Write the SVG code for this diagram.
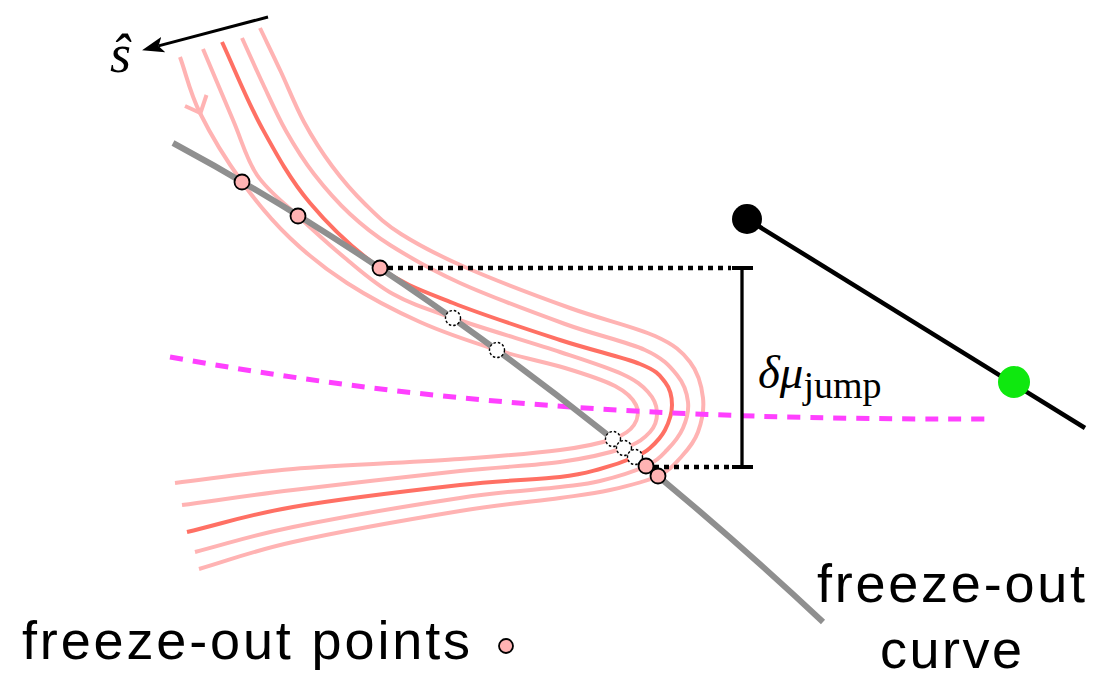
<svg xmlns="http://www.w3.org/2000/svg" width="1093" height="685" viewBox="0 0 1093 685">
<defs>
<marker id="arr" markerUnits="userSpaceOnUse" viewBox="0 0 22 16" refX="5" refY="8" markerWidth="22" markerHeight="16" orient="auto"><path d="M0,0 L22,8 L0,16 L5,8 z" fill="#000"/></marker>
</defs>
<style>
.pale{fill:none;stroke:#ffb3b3;stroke-width:4}
.dark{fill:none;stroke:#ff7064;stroke-width:4}
.fo{fill:#ffb3b3;stroke:#000;stroke-width:1.8}
.ghost{fill:#fff;stroke:#000;stroke-width:1.4;stroke-dasharray:2.5 2}
.dot{stroke:#000;stroke-width:4.5;stroke-dasharray:5 5;fill:none}
.lbl{font-family:"Liberation Sans",Arial,sans-serif;font-size:54px;fill:#000}
.math{font-family:"Liberation Serif","Times New Roman",serif;fill:#000}
</style>
<rect width="1093" height="685" fill="#fff"/>

<g id="flow-lines">
<path class="pale" d="M180,57 C186.7,75.7 189.7,92.2 200,113 S227,161.2 242,182 S272.5,221.2 290,238 S325.3,269 347,283 S395,310.8 420,322 S472.8,342.3 497,350 S545.3,362 565,368 S603.2,379.8 615,386 S632.8,398.5 636,405 S637.8,419.3 634,425 S625.3,434.8 613,439 S585.5,446.7 560,450 S504.5,455.8 460,459 S340.5,465 293,469 S214.3,478.3 175,483"/>
<polyline class="pale" points="185,106 200.5,113 206.5,95"/>
<path class="pale" d="M203,49 C213,72.7 224,99 233,120 S246.2,159 257,175 S283.3,202.2 298,216 S329.2,245 345,258 S375,284 393,294 S425.2,308.3 453,318 S531.8,342.7 560,352 S607.3,367.3 622,374 S642.2,385.7 648,392 S656.7,405.3 657,412 S655.5,426 650,432 S639,443 624,448 S587.3,458.2 560,462 S504.5,466.3 460,471 S339.3,484.3 293,490 S219,500 182,505"/>
<path class="dark" d="M222,42 C235.3,70.7 247.3,101.2 262,128 S290.3,179.7 310,203 S356.2,251.3 380,268 S423,291 453,303 S528.8,329.8 560,340 S622.5,357 640,364 S659.7,375.2 665,382 S672,397 672,405 S668.7,422.8 665,430 S655,443.5 650,448 S643.3,453.5 635,457 S612.5,465.7 600,469 S583.3,474.3 560,477 S504.5,480 460,485 S338.5,499.2 293,507 S222.3,523.7 187,532"/>
<path class="pale" d="M242,38 C249,53.3 255.7,68.5 263,84 S277.5,116 286,131 S303.3,160.2 314,174 S337.3,202.2 350,214 S371.7,233.5 390,245 S430.8,269.8 460,283 S534.2,312.8 565,324 S626.3,341.5 645,350 S669.8,366.3 677,375 S687,393.2 688,402 S686.5,420 683,428 S673.2,443.7 667,450 S657.2,460.8 646,466 S614.3,477.5 600,481 S583.3,484.2 560,487 S504.5,491.3 460,498 S337.2,518 293,527 S227.7,543.7 195,552"/>
<path class="pale" d="M260,28 C267,42.7 273.7,56.3 281,72 S295.5,106.3 304,122 S321.8,152.3 332,166 S353.5,192.7 365,204 S384,223.3 401,234 S438.8,255.7 467,268 S538.7,296.7 570,308 S635,327 655,336 S682,351.7 690,362 S701.7,386.3 703,398 S701.5,422.3 698,432 S688.7,448.7 682,456 S670,470.3 658,476 S626.3,486.3 610,490 S585,494.5 560,498 S504.5,503.7 460,511 S336.5,532.3 293,542 S230.3,560 199,569"/>
</g>

<g id="chemical-potential-line">
<path d="M170,357 C420,402 650,420 990,419" fill="none" stroke="#ff40ff" stroke-width="5" stroke-dasharray="13 10"/>
</g>

<g id="freeze-out-curve">
<path d="M173,143 C320,222 560,375 823,622" fill="none" stroke="#8f8f8f" stroke-width="6"/>
</g>

<g id="jump-bracket">
<line class="dot" x1="388" y1="268" x2="731" y2="268"/>
<line class="dot" x1="654" y1="467" x2="731" y2="467"/>
<line x1="742" y1="268" x2="742" y2="467" stroke="#000" stroke-width="3.3"/>
<line x1="732" y1="268" x2="753" y2="268" stroke="#000" stroke-width="4"/>
<line x1="732" y1="467" x2="753" y2="467" stroke="#000" stroke-width="4"/>
<text class="math" x="758" y="388" font-size="47" font-style="italic">δμ<tspan font-style="normal" font-size="38" dy="10">jump</tspan></text>
</g>

<g id="crossings">
<circle class="ghost" cx="453" cy="318" r="7.5"/>
<circle class="ghost" cx="497" cy="350" r="7.5"/>
<circle class="ghost" cx="613" cy="439" r="7.5"/>
<circle class="ghost" cx="624" cy="448" r="7.5"/>
<circle class="ghost" cx="635" cy="457" r="7.5"/>
<circle class="fo" cx="242" cy="182" r="7.5"/>
<circle class="fo" cx="298" cy="216" r="7.5"/>
<circle class="fo" cx="380" cy="268" r="7.5"/>
<circle class="fo" cx="646" cy="466" r="7.5"/>
<circle class="fo" cx="658" cy="476" r="7.5"/>
</g>

<g id="s-hat">
<line x1="268" y1="17" x2="158.5" y2="45.9" stroke="#000" stroke-width="3" marker-end="url(#arr)"/>
<text class="math" x="110" y="72" font-size="54" font-style="italic">ŝ</text>
</g>

<g id="right-line">
<line x1="747" y1="219" x2="1085" y2="428" stroke="#000" stroke-width="4.5"/>
<circle cx="747" cy="219" r="15" fill="#000"/>
<circle cx="1014" cy="382" r="16" fill="#0fe80f"/>
</g>

<g id="legend">
<text class="lbl" x="22" y="659" textLength="448" lengthAdjust="spacing">freeze-out points</text>
<circle class="fo" cx="506" cy="646" r="7"/>
<text class="lbl" x="817" y="602" textLength="268" lengthAdjust="spacing">freeze-out</text>
<text class="lbl" x="880" y="668" textLength="142" lengthAdjust="spacing">curve</text>
</g>
</svg>
